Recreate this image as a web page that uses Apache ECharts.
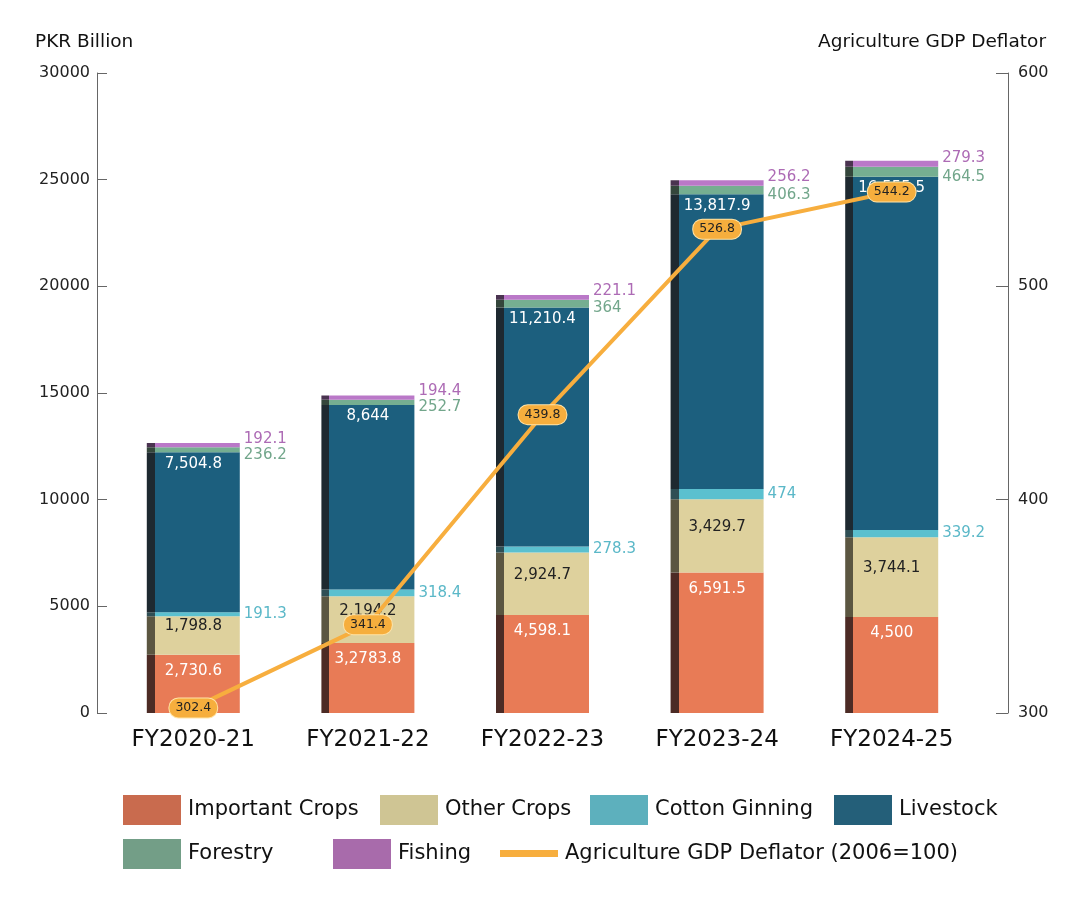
<!DOCTYPE html>
<html>
<head>
<meta charset="utf-8">
<script src="https://cdn.jsdelivr.net/npm/echarts@6/dist/echarts.min.js"></script>
<style>
  html, body { margin: 0; padding: 0; background: #fff; }
  #main { width: 1081px; height: 911px; }
</style>
</head>
<body>
<div id="main"></div>
<script>
// 数据
const years = ['FY2020-21', 'FY2021-22', 'FY2022-23', 'FY2023-24', 'FY2024-25'];
const importantCrops = [2730.6, 3278.8, 4598.1, 6591.5, 4500];
const importantCropsText = ['2,730.6', '3,2783.8', '4,598.1', '6,591.5', '4,500'];
const otherCrops = [1798.8, 2194.2, 2924.7, 3429.7, 3744.1];
const cottonGinning = [191.3, 318.4, 278.3, 474, 339.2];
const livestock = [7504.8, 8644, 11210.4, 13817.9, 16555.5];
const forestry = [236.2, 252.7, 364, 406.3, 464.5];
const fishing = [192.1, 194.4, 221.1, 256.2, 279.3];
const deflator = [302.4, 341.4, 439.8, 526.8, 544.2];
const leftTicks = [0, 30000, 5000];
const rightTicks = [300, 600, 100];

const FONT = 'DejaVu Sans';
const fmt = v => v.toLocaleString('en-US', { maximumFractionDigits: 1 });

// bar colour with dark strip on the left edge
const barFill = (base, dark) => new echarts.graphic.LinearGradient(0, 0, 1, 0, [
  { offset: 0, color: dark },
  { offset: 0.085, color: dark },
  { offset: 0.086, color: base },
  { offset: 1, color: base }
]);

const chart = echarts.init(document.getElementById('main'));

const mkBar = (name, data, base, dark, label) => ({
  name,
  type: 'bar',
  stack: 'total',
  barWidth: 93,
  data,
  itemStyle: { color: barFill(base, dark) },
  label: Object.assign({ show: true, fontFamily: FONT, fontSize: 15 }, label),
  emphasis: { disabled: true }
});

const legendItem = (name, left, top, color, extra) => Object.assign({
  left, top,
  padding: 0,
  data: [{ name, itemStyle: { color }, icon: 'rect' }],
  itemWidth: 58,
  itemHeight: 30,
  textStyle: { fontFamily: FONT, fontSize: 21, color: '#111', padding: [0, 0, 0, 2] },
  selectedMode: false
}, extra || {});

const option = {
  animation: false,
  textStyle: { fontFamily: FONT },
  grid: { left: 106, right: 102, top: 73, bottom: 198 },
  graphic: [
    { type: 'text', left: 35, top: 33, style: { text: 'PKR Billion', font: '18.5px ' + FONT, fill: '#111' } },
    { type: 'text', left: 818, top: 33, style: { text: 'Agriculture GDP Deflator', font: '18.5px ' + FONT, fill: '#111' } }
  ],
  legend: [
    legendItem('Important Crops', 123, 795, '#C96B4E'),
    legendItem('Other Crops', 380, 795, '#CFC594'),
    legendItem('Cotton Ginning', 590, 795, '#5DB0BD'),
    legendItem('Livestock', 834, 795, '#245F79'),
    legendItem('Forestry', 123, 839, '#739E87'),
    legendItem('Fishing', 333, 839, '#A86BAB'),
    legendItem('Agriculture GDP Deflator (2006=100)', 500, 843, '#F7AE3E', { itemHeight: 7 })
  ],
  xAxis: {
    type: 'category',
    data: years,
    axisLine: { show: false },
    axisTick: { show: false },
    axisLabel: { fontSize: 23, color: '#111', margin: 16, fontFamily: FONT }
  },
  yAxis: [
    {
      type: 'value',
      min: leftTicks[0], max: leftTicks[1], interval: leftTicks[2],
      offset: 9,
      axisLine: { show: true, lineStyle: { color: '#666' } },
      axisTick: { show: true, inside: true, length: 10, lineStyle: { color: '#666' } },
      axisLabel: { fontSize: 16, color: '#222', margin: 7, formatter: v => String(v) },
      splitLine: { show: false }
    },
    {
      type: 'value',
      position: 'right',
      min: rightTicks[0], max: rightTicks[1], interval: rightTicks[2],
      offset: 29,
      axisLine: { show: true, lineStyle: { color: '#666' } },
      axisTick: { show: true, inside: true, length: 12, lineStyle: { color: '#666' } },
      axisLabel: { fontSize: 16, color: '#222', margin: 10, formatter: v => String(v) },
      splitLine: { show: false }
    }
  ],
  series: [
    mkBar('Important Crops', importantCrops, '#E87B56', '#4C2B25', {
      position: 'insideTop', distance: 9, color: '#fff',
      formatter: p => importantCropsText[p.dataIndex]
    }),
    mkBar('Other Crops', otherCrops, '#DED19D', '#5B5641', {
      position: 'inside', offset: [0, -9], color: '#222', formatter: p => fmt(p.value)
    }),
    mkBar('Cotton Ginning', cottonGinning, '#5BC0CF', '#2F4F55', {
      position: 'right', distance: 4, color: '#5BB8C8', formatter: p => fmt(p.value)
    }),
    mkBar('Livestock', livestock, '#1C5F7E', '#1E2930', {
      position: 'insideTop', distance: 4, color: '#fff', formatter: p => fmt(p.value)
    }),
    mkBar('Forestry', forestry, '#75AE91', '#34463B', {
      position: 'right', distance: 4, offset: [0, 5], color: '#72A68B', formatter: p => fmt(p.value)
    }),
    mkBar('Fishing', fishing, '#BA78C8', '#4A3350', {
      position: 'right', distance: 4, offset: [0, -6], color: '#AD6BB5', formatter: p => fmt(p.value)
    }),
    {
      name: 'Agriculture GDP Deflator (2006=100)',
      type: 'line',
      yAxisIndex: 1,
      data: deflator,
      z: 10,
      symbol: 'circle',
      symbolSize: 2,
      lineStyle: { color: '#F7AE3E', width: 4 },
      itemStyle: { color: '#F7AE3E' },
      label: {
        show: true,
        position: 'inside',
        fontSize: 12.5,
        color: '#222',
        backgroundColor: '#F6AE3D',
        borderColor: '#FFE4A8',
        borderWidth: 1,
        borderRadius: 9,
        padding: [3, 6]
      },
      emphasis: { disabled: true }
    }
  ]
};

chart.setOption(option);
</script>
</body>
</html>
